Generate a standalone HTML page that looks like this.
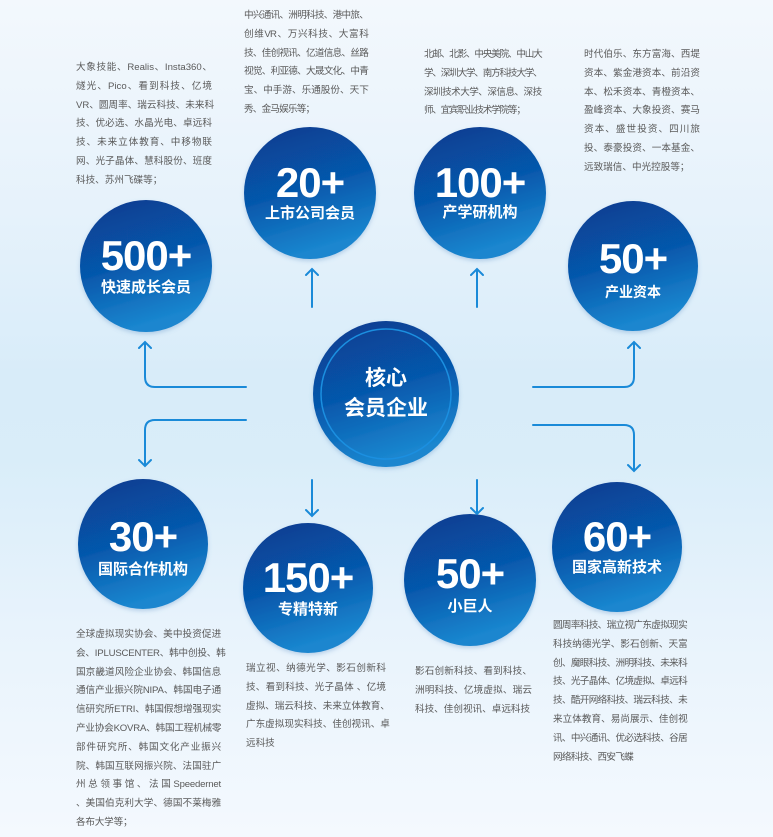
<!DOCTYPE html>
<html><head><meta charset="utf-8"><style>
html,body{margin:0;padding:0}
body{width:773px;height:837px;position:relative;overflow:hidden;
background:linear-gradient(180deg,#f3f8fd 0%,#e6f2fb 25%,#d8ecf9 45%,#d9edf9 55%,#e8f3fc 75%,#f4f9fe 100%);
font-family:"Liberation Sans","Noto Sans CJK SC",sans-serif}
.t{position:absolute;font-size:9.6px;line-height:18.8px;color:#5a5a5a}
.t div{text-align:justify;text-align-last:justify;white-space:nowrap}
.t div.l{text-align-last:left}
svg{position:absolute;left:0;top:0}
.c{position:absolute;color:#fff;text-align:center;font-weight:bold;transform:translate(-50%,-50%);white-space:nowrap}
.n{font-size:42px;line-height:42px;letter-spacing:-1px}
.lb{font-size:15px;line-height:16px}
</style></head><body>
<svg width="773" height="837">
<defs>
<linearGradient id="g" x1="0" y1="0" x2="0.3" y2="1">
<stop offset="0" stop-color="#083a8e"/><stop offset="0.55" stop-color="#0658ac"/><stop offset="1" stop-color="#1a86cf"/>
</linearGradient>
<filter id="s"><feDropShadow dx="0" dy="2" stdDeviation="2" flood-color="#5a8fc4" flood-opacity="0.35"/></filter>
</defs>
<g fill="url(#g)" filter="url(#s)">
<circle cx="146" cy="266" r="66"/>
<circle cx="310" cy="193" r="66"/>
<circle cx="480" cy="193" r="66"/>
<circle cx="633" cy="266" r="65"/>
<circle cx="143" cy="544" r="65"/>
<circle cx="308" cy="588" r="65"/>
<circle cx="470" cy="580" r="66"/>
<circle cx="617" cy="547" r="65"/>
<circle cx="386" cy="394" r="73"/>
</g>
<circle cx="386" cy="394" r="65" fill="none" stroke="#1b8fe0" stroke-width="1.5"/>
<g fill="none" stroke="#1a8ad8" stroke-width="2" stroke-linecap="round">
<path d="M312 307V269M306 275l6-6 6 6"/>
<path d="M477 307V269M471 275l6-6 6 6"/>
<path d="M312 480V516M306 510l6 6 6-6"/>
<path d="M477 480V514M471 508l6 6 6-6"/>
<path d="M246 387H155q-10 0-10-10V342M139 348l6-6 6 6"/>
<path d="M246 420H155q-10 0-10 10V466M139 460l6 6 6-6"/>
<path d="M533 387H624q10 0 10-10V342M628 348l6-6 6 6"/>
<path d="M533 425H624q10 0 10 10V471M628 465l6 6 6-6"/>
</g>
</svg>
<div class="c" style="left:146px;top:256px"><div class="n">500+</div></div>
<div class="c lb" style="left:146px;top:288px">快速成长会员</div>
<div class="c" style="left:310px;top:183px"><div class="n">20+</div></div>
<div class="c lb" style="left:310px;top:214px">上市公司会员</div>
<div class="c" style="left:480px;top:183px"><div class="n">100+</div></div>
<div class="c lb" style="left:480px;top:213px">产学研机构</div>
<div class="c" style="left:633px;top:259px"><div class="n">50+</div></div>
<div class="c lb" style="left:633px;top:292px;font-size:14px">产业资本</div>
<div class="c" style="left:143px;top:537px"><div class="n">30+</div></div>
<div class="c lb" style="left:143px;top:570px">国际合作机构</div>
<div class="c" style="left:308px;top:578px"><div class="n">150+</div></div>
<div class="c lb" style="left:308px;top:610px">专精特新</div>
<div class="c" style="left:470px;top:574px"><div class="n">50+</div></div>
<div class="c lb" style="left:470px;top:607px">小巨人</div>
<div class="c" style="left:617px;top:537px"><div class="n">60+</div></div>
<div class="c lb" style="left:617px;top:568px">国家高新技术</div>
<div class="c" style="left:386px;top:394px;font-size:21px;line-height:30px">核心<br>会员企业</div>

<div class="t" style="left:76px;top:59px;width:136px">
<div>大象技能、Realis、Insta360、</div><div>燧光、Pico、看到科技、亿境</div><div>VR、圆周率、瑞云科技、未来科</div><div>技、优必选、水晶光电、卓远科</div><div>技、未来立体教育、中移物联</div><div>网、光子晶体、慧科股份、班度</div><div class="l">科技、苏州飞碟等；</div></div>

<div class="t" style="left:244px;top:7px;width:124px;letter-spacing:-0.8px">
<div>中兴通讯、洲明科技、港中旅、</div><div>创维VR、万兴科技、大富科</div><div>技、佳创视讯、亿道信息、丝路</div><div>视觉、利亚德、大晟文化、中青</div><div>宝、中手游、乐通股份、天下</div><div class="l">秀、金马娱乐等；</div></div>

<div class="t" style="left:424px;top:46px;width:117px;letter-spacing:-1.2px">
<div>北邮、北影、中央美院、中山大</div><div>学、深圳大学、南方科技大学、</div><div>深圳技术大学、深信息、深技</div><div class="l">师、宜宾职业技术学院等；</div></div>

<div class="t" style="left:584px;top:46px;width:116px">
<div>时代伯乐、东方富海、西堤</div><div>资本、紫金港资本、前沿资</div><div>本、松禾资本、青橙资本、</div><div>盈峰资本、大象投资、赛马</div><div>资本、盛世投资、四川旅</div><div>投、泰豪投资、一本基金、</div><div class="l">远致瑞信、中光控股等；</div></div>

<div class="t" style="left:76px;top:626px;width:145px;letter-spacing:-0.2px">
<div>全球虚拟现实协会、美中投资促进</div><div>会、IPLUSCENTER、韩中创投、韩</div><div>国京畿道风险企业协会、韩国信息</div><div>通信产业振兴院NIPA、韩国电子通</div><div>信研究所ETRI、韩国假想增强现实</div><div>产业协会KOVRA、韩国工程机械零</div><div>部件研究所、韩国文化产业振兴</div><div>院、韩国互联网振兴院、法国驻广</div><div>州总领事馆、法国Speedernet</div><div>、美国伯克利大学、德国不莱梅雅</div><div class="l">各布大学等；</div></div>

<div class="t" style="left:246px;top:660px;width:140px">
<div>瑞立视、纳德光学、影石创新科</div><div>技、看到科技、光子晶体 、亿境</div><div>虚拟、瑞云科技、未来立体教育、</div><div>广东虚拟现实科技、佳创视讯、卓</div><div class="l">远科技</div></div>

<div class="t" style="left:415px;top:663px;width:117px">
<div>影石创新科技、看到科技、</div><div>洲明科技、亿境虚拟、瑞云</div><div class="l">科技、佳创视讯、卓远科技</div></div>

<div class="t" style="left:553px;top:617px;width:134px;letter-spacing:-0.7px">
<div>圆周率科技、瑞立视广东虚拟现实</div><div>科技纳德光学、影石创新、天富</div><div>创、魔眼科技、洲明科技、未来科</div><div>技、光子晶体、亿境虚拟、卓远科</div><div>技、酷开网络科技、瑞云科技、未</div><div>来立体教育、易尚展示、佳创视</div><div>讯、中兴通讯、优必选科技、谷居</div><div class="l">网络科技、西安飞蝶</div></div>
</body></html>
